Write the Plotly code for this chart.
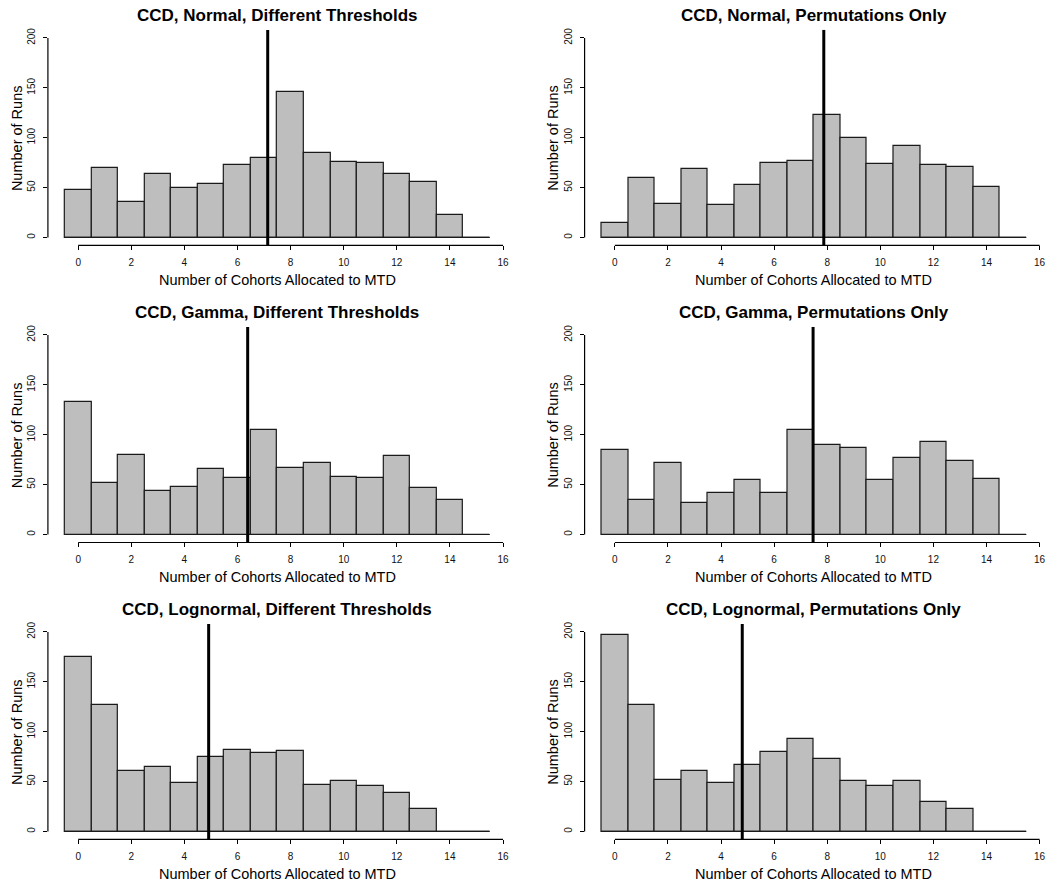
import plotly.graph_objects as go

# Number of cohorts allocated to the MTD (histogram bins, one per integer)
cohorts = list(range(16))

# Run counts per bin for each design / model combination
normal_thresholds = [48, 70, 36, 64, 50, 54, 73, 80, 146, 85, 76, 75, 64, 56, 23, 0]
normal_permutations = [15, 60, 34, 69, 33, 53, 75, 77, 123, 100, 74, 92, 73, 71, 51, 0]
gamma_thresholds = [133, 52, 80, 44, 48, 66, 57, 105, 67, 72, 58, 57, 79, 47, 35, 0]
gamma_permutations = [85, 35, 72, 32, 42, 55, 42, 105, 90, 87, 55, 77, 93, 74, 56, 0]
lognormal_thresholds = [175, 127, 61, 65, 49, 75, 82, 79, 81, 47, 51, 46, 39, 23, 0, 0]
lognormal_permutations = [197, 127, 52, 61, 49, 67, 80, 93, 73, 51, 46, 51, 30, 23, 0, 0]

panel_titles = [
    "CCD, Normal, Different Thresholds",
    "CCD, Normal, Permutations Only",
    "CCD, Gamma, Different Thresholds",
    "CCD, Gamma, Permutations Only",
    "CCD, Lognormal, Different Thresholds",
    "CCD, Lognormal, Permutations Only",
]
panel_counts = [
    normal_thresholds, normal_permutations,
    gamma_thresholds, gamma_permutations,
    lognormal_thresholds, lognormal_permutations,
]

x_label = "Number of Cohorts Allocated to MTD"
y_label = "Number of Runs"
x_ticks = [0, 2, 4, 6, 8, 10, 12, 14, 16]
y_ticks = [0, 50, 100, 150, 200]

W, H = 1060, 888
FONT = "Liberation Sans, Arial, Helvetica, sans-serif"

# Plot-region pixel boxes (left, right) per column and (top, bottom) per row
col_px = [(48.0, 507.7), (585.7, 1045.3)]
row_px = [(28.0, 244.0), (325.7, 541.7), (623.3, 839.3)]

fig = go.Figure()

for i, (title, counts) in enumerate(zip(panel_titles, panel_counts)):
    r, c = divmod(i, 2)
    n = i + 1
    xa = "x" if n == 1 else f"x{n}"
    ya = "y" if n == 1 else f"y{n}"
    xkey = "xaxis" if n == 1 else f"xaxis{n}"
    ykey = "yaxis" if n == 1 else f"yaxis{n}"

    left, right = col_px[c]
    top, bottom = row_px[r]

    fig.add_trace(go.Bar(
        x=cohorts, y=counts, width=1.0,
        marker=dict(color="#bebebe", line=dict(color="#1a1a1a", width=1.2)),
        xaxis=xa, yaxis=ya, showlegend=False, hoverinfo="x+y",
    ))
    # baseline under the bins (also marks empty bins)
    fig.add_trace(go.Scatter(
        x=[cohorts[0] - 0.5, cohorts[-1] + 0.5], y=[0, 0], mode="lines",
        line=dict(color="#1a1a1a", width=1.2),
        xaxis=xa, yaxis=ya, showlegend=False, hoverinfo="skip",
    ))

    lo = cohorts[0] - 0.5
    hi = cohorts[-1] + 0.5
    pad_x = 0.04 * (hi - lo)
    pad_y = 0.04 * (y_ticks[-1] - y_ticks[0])

    fig.layout[xkey] = dict(
        domain=[left / W, right / W], anchor=ya,
        range=[lo - pad_x, hi + pad_x],
        showgrid=False, zeroline=False, showline=False,
        tickmode="array", tickvals=x_ticks, ticktext=[str(v) for v in x_ticks],
        ticks="outside", ticklen=4, tickwidth=1, tickcolor="#000",
        tickfont=dict(family=FONT, size=10, color="#111"),
        ticklabelstandoff=4,
    )
    fig.layout[ykey] = dict(
        domain=[1 - bottom / H, 1 - top / H], anchor=xa,
        range=[y_ticks[0] - pad_y, y_ticks[-1] + pad_y],
        showgrid=False, zeroline=False, showline=False,
        tickmode="array", tickvals=y_ticks, ticktext=[str(v) for v in y_ticks],
        ticks="outside", ticklen=4, tickwidth=1, tickcolor="#000",
        tickangle=-90,
        tickfont=dict(family=FONT, size=10, color="#111"),
        ticklabelstandoff=4,
    )

    # detached axis lines spanning first to last tick
    fig.add_shape(type="line", xref=xa, yref=f"{ya} domain",
                  x0=x_ticks[0], x1=x_ticks[-1], y0=0, y1=0,
                  line=dict(color="#000", width=1.2))
    fig.add_shape(type="line", xref=f"{xa} domain", yref=ya,
                  x0=0, x1=0, y0=y_ticks[0], y1=y_ticks[-1],
                  line=dict(color="#000", width=1.2))

    # mean number of cohorts at the MTD
    mean_val = sum(k * v for k, v in zip(cohorts, counts)) / sum(counts)
    fig.add_shape(type="line", xref=xa, yref=f"{ya} domain",
                  x0=mean_val, x1=mean_val, y0=0, y1=1,
                  line=dict(color="#000", width=3))

    # panel title
    fig.add_annotation(text=f"<b>{title}</b>", xref=f"{xa} domain", yref=f"{ya} domain",
                       x=0.5, y=1, yshift=14, xanchor="center", yanchor="middle",
                       showarrow=False, font=dict(family=FONT, size=17, color="#000"))
    # axis titles
    fig.add_annotation(text=x_label, xref=f"{xa} domain", yref=f"{ya} domain",
                       x=0.5, y=0, yshift=-34.5, xanchor="center", yanchor="middle",
                       showarrow=False, font=dict(family=FONT, size=14.5, color="#000"))
    fig.add_annotation(text=y_label, xref=f"{xa} domain", yref=f"{ya} domain",
                       x=0, y=0.5, xshift=-31.5, xanchor="center", yanchor="middle",
                       textangle=-90,
                       showarrow=False, font=dict(family=FONT, size=14.5, color="#000"))

fig.update_layout(
    width=W, height=H,
    margin=dict(l=0, r=0, t=0, b=0),
    paper_bgcolor="#fff", plot_bgcolor="#fff",
    bargap=0, showlegend=False,
)

fig.write_html("out.html", config={"displayModeBar": False})
